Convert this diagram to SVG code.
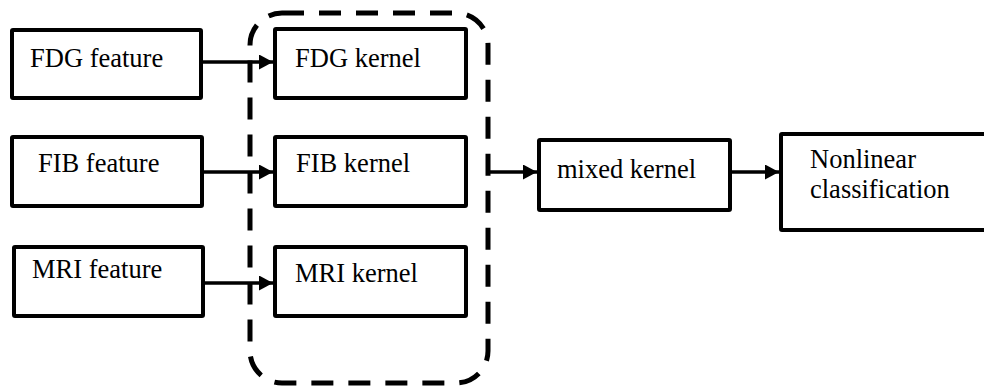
<svg xmlns="http://www.w3.org/2000/svg" width="984" height="389" viewBox="0 0 984 389">
<style>
.box{fill:#fff;stroke:#000;stroke-width:4;stroke-linejoin:round}
.lbl{font-family:"Liberation Serif","Times New Roman",serif;font-size:26.5px;fill:#000}
.conn{stroke:#000;stroke-width:3.5;fill:none}
.grp{fill:none;stroke:#000;stroke-width:5;stroke-dasharray:22 15}
</style>
<defs>
<marker id="ah" markerUnits="userSpaceOnUse" markerWidth="14" markerHeight="15" refX="14" refY="7.5" orient="auto">
<path d="M0,0 L14,7.5 L0,15 z" fill="#000"/>
</marker>
</defs>
<rect class="grp" x="250" y="13" width="238" height="370" rx="32" ry="32"/>
<g id="fdg-feature"><rect class="box" x="12" y="30" width="189" height="68" rx="1"/><text class="lbl" x="30" y="67">FDG feature</text></g>
<g id="fdg-kernel"><rect class="box" x="275" y="29" width="191" height="69" rx="1"/><text class="lbl" x="295" y="67">FDG kernel</text></g>
<g id="fib-feature"><rect class="box" x="12" y="137" width="190" height="69" rx="1"/><text class="lbl" x="38" y="172">FIB feature</text></g>
<g id="fib-kernel"><rect class="box" x="275" y="137" width="191" height="69" rx="1"/><text class="lbl" x="296" y="172">FIB kernel</text></g>
<g id="mri-feature"><rect class="box" x="14" y="247" width="189" height="69" rx="1"/><text class="lbl" x="32" y="278">MRI feature</text></g>
<g id="mri-kernel"><rect class="box" x="275" y="247" width="191" height="69" rx="1"/><text class="lbl" x="295" y="282">MRI kernel</text></g>
<g id="mixed-kernel"><rect class="box" x="539" y="140" width="191" height="70" rx="1"/><text class="lbl" x="557" y="178">mixed kernel</text></g>
<g id="nonlinear"><rect class="box" x="781" y="134" width="220" height="96" rx="1"/><text class="lbl" x="810" y="168">Nonlinear</text><text class="lbl" x="810" y="198">classification</text></g>
<g id="connectors">
<line class="conn" x1="203" y1="62" x2="273" y2="62" marker-end="url(#ah)"/>
<line class="conn" x1="204" y1="172" x2="273" y2="172" marker-end="url(#ah)"/>
<line class="conn" x1="205" y1="283" x2="273" y2="283" marker-end="url(#ah)"/>
<line class="conn" x1="488" y1="172" x2="537" y2="172" marker-end="url(#ah)"/>
<line class="conn" x1="732" y1="172" x2="779" y2="172" marker-end="url(#ah)"/>
</g>
</svg>
